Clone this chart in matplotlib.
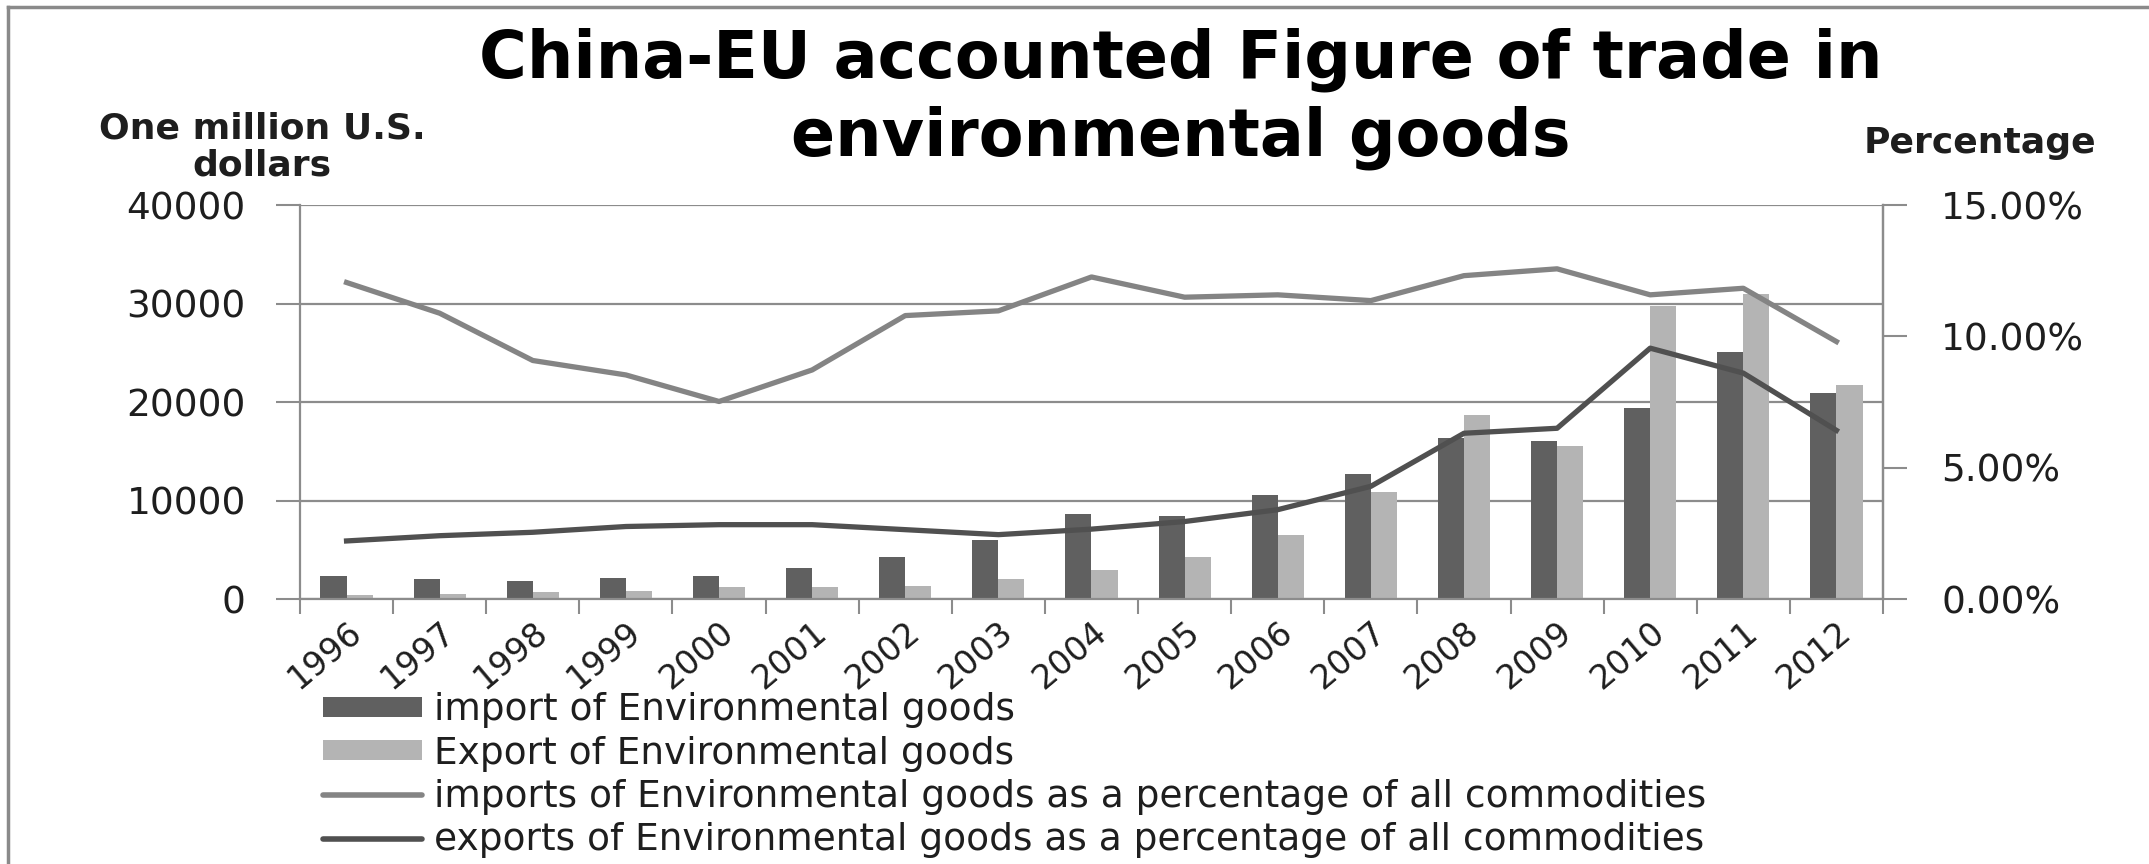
import numpy as np
import matplotlib.pyplot as plt
from matplotlib.patches import Patch
from matplotlib.lines import Line2D
from matplotlib.transforms import ScaledTranslation

# ============================================================
# DATA
# ============================================================
years = ['1996', '1997', '1998', '1999', '2000', '2001', '2002', '2003', '2004',
         '2005', '2006', '2007', '2008', '2009', '2010', '2011', '2012']

# million US dollars
imports_val = [2300, 2000, 1800, 2140, 2300, 3120, 4240, 6000, 8610,
               8410, 10540, 12640, 16370, 16030, 19420, 25080, 20880]
exports_val = [370, 510, 680, 850, 1220, 1220, 1360, 2000, 2950,
               4240, 6510, 10850, 18640, 15530, 29760, 30950, 21700]

# share of all commodities (fraction)
imports_pct = [0.1205, 0.1088, 0.0908, 0.0853, 0.0752, 0.0872, 0.1079, 0.1097, 0.1226,
               0.1149, 0.1158, 0.1136, 0.1231, 0.1257, 0.1158, 0.1183, 0.0980]
exports_pct = [0.0221, 0.0241, 0.0254, 0.0276, 0.0283, 0.0283, 0.0264, 0.0245, 0.0266,
               0.0295, 0.0340, 0.0429, 0.0631, 0.0650, 0.0955, 0.0860, 0.0642]

left_ticks = [0, 10000, 20000, 30000, 40000]
right_ticks = [0, 0.05, 0.10, 0.15]
right_labels = ['0.00%', '5.00%', '10.00%', '15.00%']

title_lines = ['China-EU accounted Figure of trade in', 'environmental goods']
labels = ['import of Environmental goods',
          'Export of Environmental goods',
          'imports of Environmental goods as a percentage of all commodities',
          'exports of Environmental goods as a percentage of all commodities']

# colours
c_imp_bar = '#606060'
c_exp_bar = '#b4b4b4'
c_imp_line = '#848484'
c_exp_line = '#505050'
c_axis = '#8c8c8c'
c_text = '#1e1e1e'

W, H = 2149, 864

# ============================================================
# FIGURE
# ============================================================
fig = plt.figure(figsize=(W / 100, H / 100), dpi=100)
ax = fig.add_axes([300 / W, 1 - 599 / H, (1883 - 300) / W, (599 - 205) / H])

x = np.arange(len(years))
bw = 0.28
ax.bar(x - bw / 2, imports_val, bw, color=c_imp_bar, zorder=2)
ax.bar(x + bw / 2, exports_val, bw, color=c_exp_bar, zorder=2)

ax.set_xlim(-0.5, len(years) - 0.5)
ax.set_ylim(0, 40000)
ax.set_yticks(left_ticks)
ax.set_yticklabels([str(v) for v in left_ticks])
ax.yaxis.grid(True, color=c_axis, linewidth=1.6, zorder=0)
ax.set_axisbelow(True)

# category boundaries as major ticks, year labels on minor ticks
ax.set_xticks(np.arange(-0.5, len(years), 1))
ax.set_xticklabels([])
ax.set_xticks(x, minor=True)
ax.set_xticklabels(years, minor=True, rotation=40, ha='right', va='top',
                   rotation_mode='anchor', fontsize=24, color=c_text)
for lab in ax.get_xticklabels(minor=True):
    lab.set_transform(lab.get_transform() + ScaledTranslation(0.10, 0, fig.dpi_scale_trans))
ax.tick_params(axis='x', which='major', length=11, width=1.5, color=c_axis)
ax.tick_params(axis='x', which='minor', length=0, pad=12)
ax.tick_params(axis='y', length=17, width=1.5, color=c_axis, labelsize=27,
               labelcolor=c_text, pad=22)

ax.spines['top'].set_visible(False)
for s in ['left', 'bottom', 'right']:
    ax.spines[s].set_color(c_axis)
    ax.spines[s].set_linewidth(1.6)

# percentage lines on the right axis
ax2 = ax.twinx()
ax2.plot(x, imports_pct, color=c_imp_line, linewidth=3.8, zorder=3)
ax2.plot(x, exports_pct, color=c_exp_line, linewidth=3.8, zorder=3)
ax2.set_ylim(0, 0.15)
ax2.set_yticks(right_ticks)
ax2.set_yticklabels(right_labels)
ax2.tick_params(axis='y', length=17, width=1.5, color=c_axis, labelsize=27,
                labelcolor=c_text, pad=25)
for s in ['top', 'left', 'bottom']:
    ax2.spines[s].set_visible(False)
ax2.spines['right'].set_color(c_axis)
ax2.spines['right'].set_linewidth(1.6)

# titles (one text per line)
fig.text(1181 / W, 1 - 60 / H, title_lines[0], ha='center', va='center',
         fontsize=47, fontweight='bold', color='black')
fig.text(1181 / W, 1 - 138 / H, title_lines[1], ha='center', va='center',
         fontsize=47, fontweight='bold', color='black')
fig.text(262 / W, 1 - 147 / H, 'One million U.S.\ndollars', ha='center', va='center',
         fontsize=26, fontweight='bold', color=c_text, linespacing=1.12)
fig.text(1980 / W, 1 - 143 / H, 'Percentage', ha='center', va='center',
         fontsize=26, fontweight='bold', color=c_text)

# legend
handles = [Patch(facecolor=c_imp_bar), Patch(facecolor=c_exp_bar),
           Line2D([], [], color=c_imp_line, linewidth=4, solid_capstyle='round'),
           Line2D([], [], color=c_exp_line, linewidth=4, solid_capstyle='round')]
leg = fig.legend(handles, labels, loc='upper left', bbox_to_anchor=(323 / W, 1 - 692 / H),
                 frameon=False, fontsize=27, handlelength=2.65, handleheight=0.45,
                 handletextpad=0.32, labelspacing=0.2, borderpad=0, borderaxespad=0)
for t in leg.get_texts():
    t.set_color(c_text)

# outer chart border (left and top edges visible)
fig.add_artist(Line2D([8 / W, 8 / W], [0, 1 - 7 / H], color='#8a8a8a', linewidth=2.5,
                      transform=fig.transFigure))
fig.add_artist(Line2D([8 / W, 1], [1 - 7 / H, 1 - 7 / H], color='#8a8a8a', linewidth=2.5,
                      transform=fig.transFigure))

plt.savefig('out.png', dpi=100)
